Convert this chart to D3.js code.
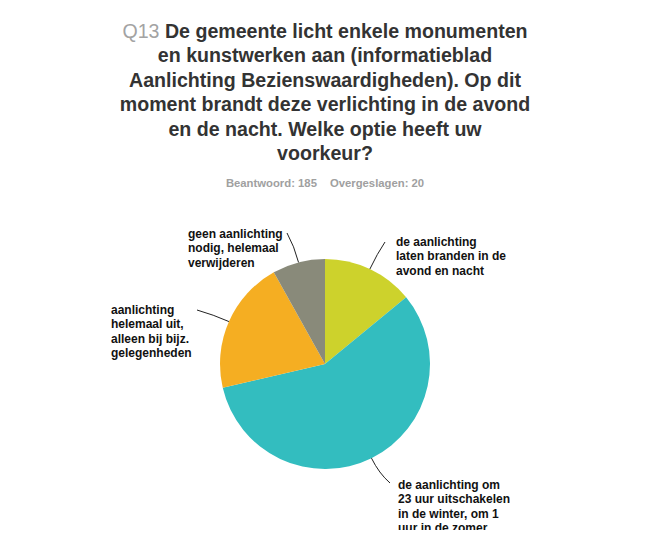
<!DOCTYPE html>
<html>
<head>
<meta charset="utf-8">
<script src="https://cdn.jsdelivr.net/npm/d3@7"></script>
<style>
html,body{margin:0;padding:0;background:#fff;}
svg{display:block;}
</style>
</head>
<body>
<svg id="chart" width="650" height="553" font-family="'Liberation Sans', Arimo, Arial, sans-serif"></svg>
<script>
const categories = [
  "de aanlichting laten branden in de avond en nacht",
  "de aanlichting om 23 uur uitschakelen in de winter, om 1 uur in de zomer",
  "aanlichting helemaal uit, alleen bij bijz. gelegenheden",
  "geen aanlichting nodig, helemaal verwijderen"
];
const labelLines = [
  ["de aanlichting", "laten branden in de", "avond en nacht"],
  ["de aanlichting om", "23 uur uitschakelen", "in de winter, om 1", "uur in de zomer"],
  ["aanlichting", "helemaal uit,", "alleen bij bijz.", "gelegenheden"],
  ["geen aanlichting", "nodig, helemaal", "verwijderen"]
];
const values = [26, 106, 38, 15];
const colors = ["#cdd22c", "#33bdbf", "#f5ae22", "#898a7a"];
const titleQ = "Q13";
const titleLines = [
  "De gemeente licht enkele monumenten",
  "en kunstwerken aan (informatieblad",
  "Aanlichting Bezienswaardigheden). Op dit",
  "moment brandt deze verlichting in de avond",
  "en de nacht. Welke optie heeft uw",
  "voorkeur?"
];
const answered = "Beantwoord: 185";
const skipped = "Overgeslagen: 20";

const svg = d3.select("#chart");
const cx = 325, cy = 364, R = 105;

// Title
const title = svg.append("text").attr("text-anchor", "middle")
  .attr("font-size", 19.6).attr("font-weight", "bold").attr("fill", "#333");
titleLines.forEach((line, i) => {
  const t = title.append("tspan").attr("x", 325).attr("y", 38 + i * 24.4);
  if (i === 0) {
    t.append("tspan").attr("fill", "#a3a3a3").attr("font-weight", "normal").text(titleQ + " ");
    t.append("tspan").text(line);
  } else t.text(line);
});
const sub = svg.append("text").attr("x", 325).attr("y", 187).attr("text-anchor", "middle")
  .attr("font-size", 11.3).attr("font-weight", "bold").attr("fill", "#a0a0a0");
sub.append("tspan").text(answered);
sub.append("tspan").attr("dx", 13).text(skipped);

// Clip
svg.append("clipPath").attr("id", "clip").append("rect")
  .attr("x", 0).attr("y", 200).attr("width", 650).attr("height", 330);
const g = svg.append("g").attr("clip-path", "url(#clip)");

const pie = d3.pie().sort(null).value(d => d)(values);
const arc = d3.arc().innerRadius(0).outerRadius(R);
const pg = g.append("g").attr("transform", `translate(${cx},${cy})`);
pg.selectAll("path").data(pie).join("path")
  .attr("d", arc).attr("fill", (d, i) => colors[i]);

// Labels and leader lines
const labelPos = [
  {x: 396, y: 246, ex: 385, ey: 242},
  {x: 398, y: 489, ex: 390, ey: 483},
  {x: 111, y: 314, ex: 197, ey: 310},
  {x: 188, y: 238, ex: 287, ey: 233}
];
pie.forEach((d, i) => {
  const a = (d.startAngle + d.endAngle) / 2;
  const sx = cx + R * Math.sin(a), sy = cy - R * Math.cos(a);
  const kx = cx + (R + 17) * Math.sin(a), ky = cy - (R + 17) * Math.cos(a);
  const p = d3.path();
  p.moveTo(sx, sy);
  p.quadraticCurveTo(kx, ky, labelPos[i].ex, labelPos[i].ey);
  g.append("path").attr("d", p.toString()).attr("fill", "none")
    .attr("stroke", "#222").attr("stroke-width", 1);
  const t = g.append("text").attr("font-size", 12).attr("font-weight", "bold").attr("fill", "#111");
  labelLines[i].forEach((l, j) => {
    t.append("tspan").attr("x", labelPos[i].x).attr("y", labelPos[i].y + j * 14.3).text(l);
  });
});
</script>
</body>
</html>
